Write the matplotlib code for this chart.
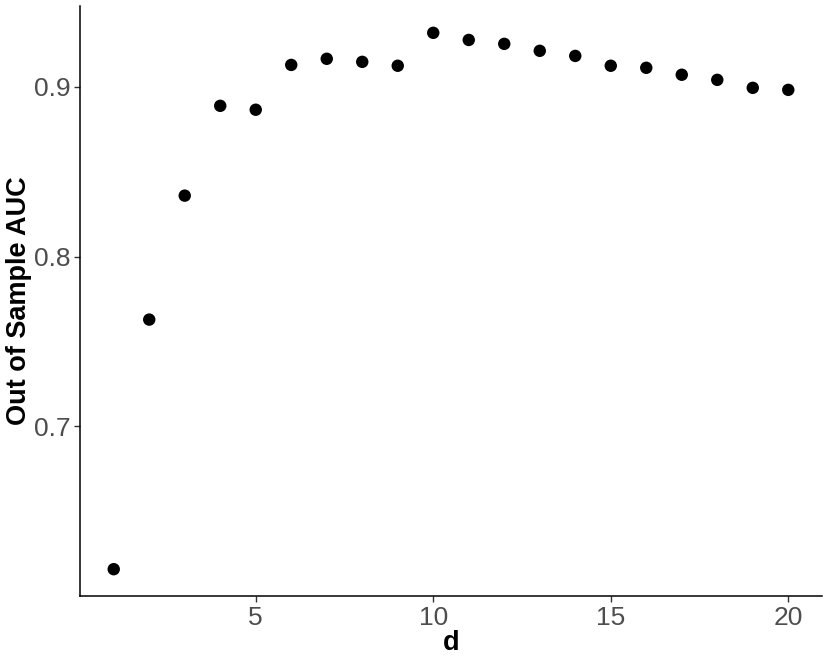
import matplotlib
matplotlib.use("Agg")
import matplotlib.pyplot as plt

d = list(range(1, 21))
auc = [0.6159, 0.7629, 0.8359, 0.8888, 0.8865, 0.9129, 0.9165, 0.9147, 0.9124, 0.9318,
       0.9276, 0.9253, 0.9212, 0.9182, 0.9124, 0.9112, 0.9071, 0.9041, 0.8994, 0.8982]
xticks = [5, 10, 15, 20]
yticks = [0.7, 0.8, 0.9]

plt.rcParams['font.family'] = ['Liberation Sans', 'DejaVu Sans']

fig = plt.figure(figsize=(8.3, 6.64), dpi=100)
ax = fig.add_axes([80/830, 68/664, 742/830, 590/664])
ax.scatter(d, auc, s=80, color='black', edgecolors='none', zorder=3)

ax.set_xlim(0.05, 20.95)
lo, hi = min(auc), max(auc)
pad = (hi - lo) * 0.05
ax.set_ylim(lo - pad, hi + pad)
ax.set_xticks(xticks)
ax.set_xticklabels([str(t) for t in xticks])
ax.set_yticks(yticks)
ax.set_yticklabels([f"{t:.1f}" for t in yticks])

for s in ['top', 'right']:
    ax.spines[s].set_visible(False)
for s in ['left', 'bottom']:
    ax.spines[s].set_linewidth(1.1)
    ax.spines[s].set_color('black')
ax.tick_params(axis='both', length=4, width=1.0, color='#333333',
               labelcolor='#4D4D4D', labelsize=19, pad=3)
ax.set_xlabel('d', fontsize=19.5, fontweight='bold', labelpad=0)
ax.set_ylabel('Out of Sample AUC', fontsize=19.5, fontweight='bold', labelpad=1)

fig.savefig('out.png', dpi=100)
